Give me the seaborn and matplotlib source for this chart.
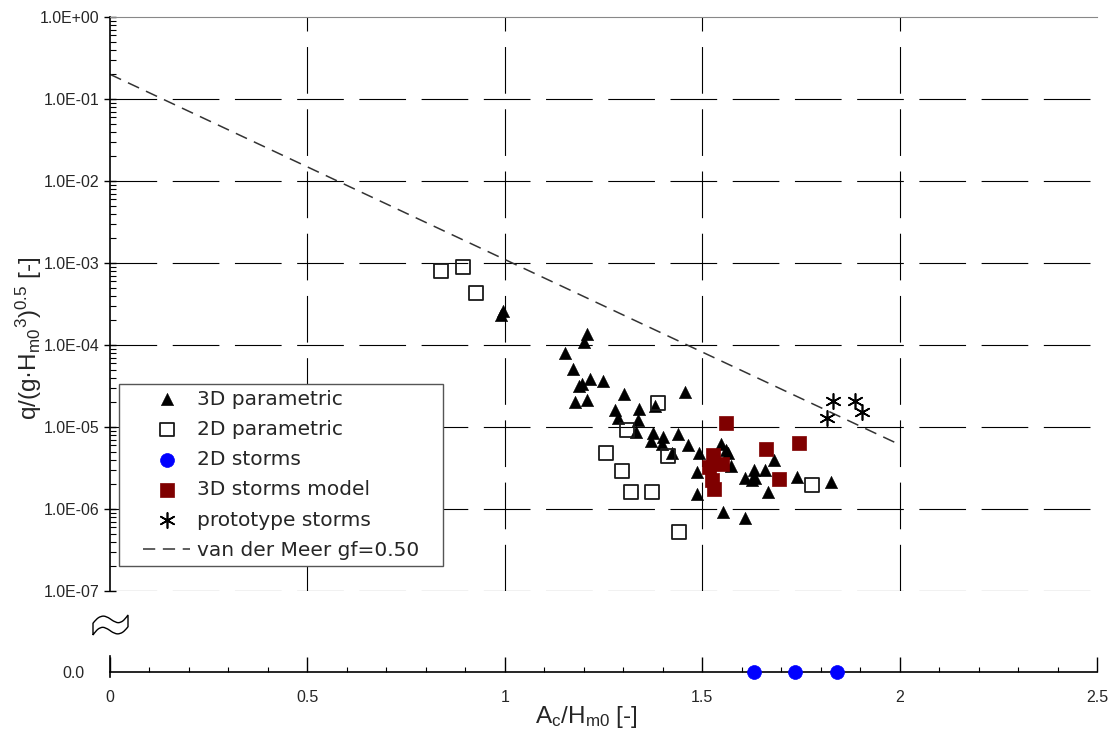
import numpy as np
import pandas as pd
import matplotlib
matplotlib.use("Agg")
import matplotlib.pyplot as plt
import matplotlib.ticker as mticker
from matplotlib.textpath import TextPath
from matplotlib.patches import PathPatch
from matplotlib.font_manager import FontProperties
from matplotlib.transforms import Affine2D
from matplotlib.legend_handler import HandlerLine2D, HandlerPathCollection
from matplotlib.lines import Line2D
from matplotlib.collections import PathCollection
import seaborn as sns

sns.set_style("ticks")
plt.rcParams["font.family"] = ["Liberation Sans", "DejaVu Sans"]
plt.rcParams["mathtext.fontset"] = "custom"
plt.rcParams["mathtext.rm"] = "Liberation Sans"
plt.rcParams["mathtext.it"] = "Liberation Sans:italic"

# --- data ---
tri3d_x = [0.995, 0.990, 1.207, 1.200, 1.153, 1.172, 1.188, 1.196, 1.216, 1.249,
           1.179, 1.207, 1.303, 1.456, 1.280, 1.341, 1.288, 1.338, 1.380, 1.332,
           1.376, 1.400, 1.439, 1.370, 1.398, 1.464, 1.424, 1.492, 1.486, 1.488,
           1.547, 1.560, 1.566, 1.574, 1.553, 1.609, 1.608, 1.630, 1.634, 1.625,
           1.659, 1.682, 1.666, 1.741, 1.826]
tri3d_y = [2.6e-4, 2.3e-4, 1.35e-4, 1.09e-4, 8.1e-5, 5.1e-5, 3.2e-5, 3.3e-5, 3.8e-5, 3.6e-5,
           2.0e-5, 2.13e-5, 2.55e-5, 2.7e-5, 1.61e-5, 1.67e-5, 1.29e-5, 1.23e-5, 1.8e-5, 8.6e-6,
           8.45e-6, 7.6e-6, 8.2e-6, 6.7e-6, 6.2e-6, 6.0e-6, 4.8e-6, 4.8e-6, 2.8e-6, 1.52e-6,
           6.2e-6, 5.2e-6, 4.8e-6, 3.3e-6, 9.1e-7, 7.7e-7, 2.37e-6, 3.0e-6, 2.37e-6, 2.26e-6,
           2.95e-6, 3.96e-6, 1.61e-6, 2.45e-6, 2.16e-6]

sq2d_x = [0.838, 0.894, 0.927, 1.388, 1.310, 1.256, 1.413, 1.297, 1.320, 1.373, 1.441, 1.778]
sq2d_y = [8.0e-4, 8.9e-4, 4.3e-4, 1.96e-5, 9.2e-6, 4.8e-6, 4.4e-6, 2.9e-6, 1.6e-6, 1.6e-6, 5.2e-7, 1.96e-6]

storm2d_x = [1.632, 1.734, 1.842]
storm2d_y = [0.0, 0.0, 0.0]

storm3d_x = [1.561, 1.527, 1.517, 1.549, 1.526, 1.531, 1.661, 1.746, 1.695]
storm3d_y = [1.11e-5, 4.56e-6, 3.28e-6, 3.54e-6, 2.24e-6, 1.76e-6, 5.35e-6, 6.33e-6, 2.3e-6]

proto_x = [1.832, 1.887, 1.904, 1.815]
proto_y = [2.07e-5, 2.07e-5, 1.54e-5, 1.3e-5]

vdm_x = [0.0, 2.0]
vdm_y = [0.2, 6.1e-6]

decades = [1e0, 1e-1, 1e-2, 1e-3, 1e-4, 1e-5, 1e-6, 1e-7]
xticks = [0, 0.5, 1, 1.5, 2, 2.5]
xtick_labels = ["0", "0.5", "1", "1.5", "2", "2.5"]

fig = plt.figure(figsize=(11.11, 7.33), dpi=100)
ax = fig.add_axes([0.099, 0.1937, 0.8884, 0.7831])
ax2 = fig.add_axes([0.099, 0.0764, 0.8884, 0.0286])

grid_ls = (0, (42, 14))

# main (log) axis
ax.set_yscale("log")
ax.set_xlim(0, 2.5)
ax.set_ylim(1e-7, 1e0)
for v in decades[1:]:
    ax.axhline(v, color="black", lw=0.8, ls=grid_ls, zorder=1)
for v in [0.5, 1.0, 1.5, 2.0]:
    ax.axvline(v, color="black", lw=0.8, ls=grid_ls, zorder=1)

sns.scatterplot(x=tri3d_x, y=tri3d_y, marker="^", s=78, color="black",
                edgecolor="black", linewidth=0.4, ax=ax, label="3D parametric", zorder=3)
sns.scatterplot(x=sq2d_x, y=sq2d_y, marker="s", s=100, facecolor="none",
                edgecolor="#1a1a1a", linewidth=1.3, ax=ax, label="2D parametric", zorder=4)
sns.scatterplot(x=storm3d_x, y=storm3d_y, marker="s", s=100, color="#7f0000",
                edgecolor="#7f0000", linewidth=0.5, ax=ax, label="3D storms model", zorder=5)
sns.scatterplot(x=proto_x, y=proto_y, marker=(6, 2, 0), s=120, color="black",
                linewidth=1.2, ax=ax, label="prototype storms", zorder=5)
sns.lineplot(x=vdm_x, y=vdm_y, color="#333333", lw=1.1, ax=ax,
             label="van der Meer gf=0.50", zorder=2)
ax.lines[-1].set_linestyle((0, (8, 5)))

ax.yaxis.set_major_locator(mticker.FixedLocator(decades))
ax.yaxis.set_major_formatter(mticker.FuncFormatter(lambda v, p: f"{v:.1E}"))
ax.yaxis.set_minor_locator(mticker.LogLocator(base=10, subs=np.arange(2, 10), numticks=20))
ax.yaxis.set_minor_formatter(mticker.NullFormatter())
ax.tick_params(axis="y", which="major", direction="inout", length=9, width=1,
               labelsize=11.4, pad=3, color="black")
ax.tick_params(axis="y", which="minor", direction="in", length=4, width=0.8, color="black")
ax.set_xticks([])
ax.spines["right"].set_visible(False)
ax.spines["bottom"].set_visible(False)
ax.spines["top"].set_color("#888888")
ax.spines["left"].set_color("black")
ax.spines["left"].set_linewidth(1.2)
ax.set_xlabel("")
ax.set_ylabel("")

# lower axis with zero values
ax2.set_xlim(0, 2.5)
ax2.set_ylim(-0.31, 1)
ax2.patch.set_alpha(0)
sns.scatterplot(x=storm2d_x, y=storm2d_y, marker="o", s=100, color="#0000ff",
                edgecolor="#0000ff", linewidth=0.5, ax=ax2, label="2D storms",
                zorder=5, clip_on=False)
ax2.spines["bottom"].set_position(("data", 0))
ax2.spines["top"].set_visible(False)
ax2.spines["right"].set_visible(False)
ax2.spines["bottom"].set_color("black")
ax2.spines["left"].set_color("black")
ax2.spines["bottom"].set_linewidth(1.2)
ax2.spines["left"].set_linewidth(1.2)
ax2.set_xticks(xticks)
ax2.set_xticklabels(xtick_labels)
ax2.xaxis.set_minor_locator(mticker.MultipleLocator(0.1))
ax2.tick_params(axis="x", which="major", direction="in", length=11, width=1,
                labelsize=11.5, pad=13, color="black")
ax2.tick_params(axis="x", which="minor", direction="in", length=3.5, width=0.8, color="black")
ax2.set_yticks([0.0])
ax2.set_yticklabels(["0.0"])
ax2.tick_params(axis="y", length=0, labelsize=11.4, pad=18)
ax2.set_xlabel("")
ax2.set_ylabel("")
if ax2.get_legend() is not None:
    ax2.get_legend().remove()

# legend
h1, l1 = ax.get_legend_handles_labels()
h2, l2 = ax2.get_legend_handles_labels()
hmap = dict(zip(l1 + l2, h1 + h2))
order = ["3D parametric", "2D parametric", "2D storms", "3D storms model",
         "prototype storms", "van der Meer gf=0.50"]
leg = ax.legend([hmap[k] for k in order], order, loc="lower left",
                bbox_to_anchor=(0.00912, 0.0436, 0.3283, 0.3171), mode="expand",
                borderaxespad=0,
                prop={"family": "DejaVu Sans", "size": 14.5},
                frameon=True, fancybox=False, framealpha=1, edgecolor="#555555",
                handlelength=3.23, handletextpad=0.35, labelspacing=0.56,
                borderpad=0.3,
                handler_map={Line2D: HandlerLine2D(xpad=0.9),
                             PathCollection: HandlerPathCollection(xpad=0.9)})
leg.get_frame().set_linewidth(1.0)
leg.set_zorder(10)

# axis labels
fig.text(0.026, 1 - 338 / 733, "q/(g·H$_\\mathrm{m0}$$^\\mathrm{3}$)$^\\mathrm{0.5}$ [-]",
         rotation=90, ha="center", va="center", fontsize=17.5)
fig.text(0.528, 0.0218, "A$_\\mathrm{c}$/H$_\\mathrm{m0}$ [-]",
         ha="center", va="center", fontsize=17.5)

# axis break mark (outlined wave)
tp = TextPath((0, 0), "~", size=10, prop=FontProperties(family="DejaVu Sans", weight="bold"))
ext = tp.get_extents()
bx0, bx1 = 93 / 1111, 128 / 1111
by0, by1 = 1 - 635 / 733, 1 - 615 / 733
tr = (Affine2D().translate(-ext.x0, -ext.y0)
      .scale((bx1 - bx0) / ext.width, (by1 - by0) / ext.height)
      .translate(bx0, by0))
fig.add_artist(PathPatch(tr.transform_path(tp), facecolor="white", edgecolor="black",
                         lw=1.0, transform=fig.transFigure))

fig.savefig("out.png", dpi=100)
